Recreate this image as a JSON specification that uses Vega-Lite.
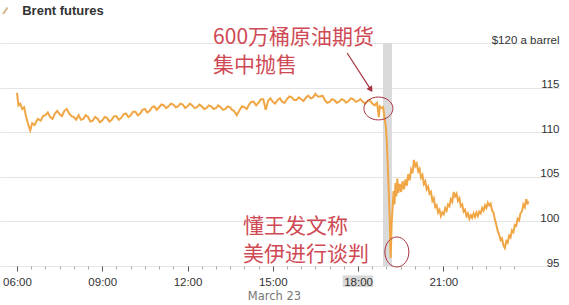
{
  "$schema": "https://vega.github.io/schema/vega-lite/v6.json",
  "width": 559,
  "height": 223,
  "autosize": {"type": "none"},
  "padding": {"left": 0, "top": 43, "right": 10, "bottom": 39},
  "background": "white",
  "config": {"view": {"stroke": null}, "font": "Liberation Sans"},
  "datasets": {
    "brent": [
      {"minute": 360, "p": 114.4}, {"minute": 363, "p": 113.0}, {"minute": 367, "p": 113.2}, {"minute": 371, "p": 112.6},
      {"minute": 375, "p": 112.8}, {"minute": 379, "p": 111.8}, {"minute": 384, "p": 110.8}, {"minute": 388, "p": 110.2},
      {"minute": 392, "p": 111.0}, {"minute": 397, "p": 110.8}, {"minute": 404, "p": 111.5}, {"minute": 410, "p": 111.3},
      {"minute": 415, "p": 111.8},
      {"minute": 420, "p": 111.9}, {"minute": 425, "p": 112.2}, {"minute": 430, "p": 111.7}, {"minute": 435, "p": 111.5},
      {"minute": 440, "p": 112.1}, {"minute": 445, "p": 112.4}, {"minute": 450, "p": 112.0}, {"minute": 455, "p": 111.8},
      {"minute": 460, "p": 112.4}, {"minute": 465, "p": 112.6}, {"minute": 470, "p": 112.1}, {"minute": 475, "p": 111.8},
      {"minute": 480, "p": 111.7}, {"minute": 485, "p": 111.4}, {"minute": 490, "p": 111.9}, {"minute": 495, "p": 111.4},
      {"minute": 500, "p": 111.5}, {"minute": 505, "p": 111.9}, {"minute": 510, "p": 111.7}, {"minute": 515, "p": 111.2},
      {"minute": 520, "p": 111.3}, {"minute": 525, "p": 111.7}, {"minute": 530, "p": 111.5}, {"minute": 535, "p": 111.1},
      {"minute": 540, "p": 111.3}, {"minute": 545, "p": 111.7}, {"minute": 550, "p": 111.6}, {"minute": 555, "p": 111.2},
      {"minute": 560, "p": 111.4}, {"minute": 565, "p": 111.8}, {"minute": 570, "p": 111.8}, {"minute": 575, "p": 111.4},
      {"minute": 580, "p": 111.6}, {"minute": 585, "p": 112.0}, {"minute": 590, "p": 112.1}, {"minute": 595, "p": 111.7},
      {"minute": 600, "p": 111.9}, {"minute": 605, "p": 112.3}, {"minute": 610, "p": 112.3}, {"minute": 615, "p": 111.9},
      {"minute": 620, "p": 112.1}, {"minute": 625, "p": 112.5}, {"minute": 630, "p": 112.6}, {"minute": 635, "p": 112.2},
      {"minute": 640, "p": 112.4}, {"minute": 645, "p": 112.8}, {"minute": 650, "p": 112.9}, {"minute": 655, "p": 112.5},
      {"minute": 660, "p": 112.8}, {"minute": 665, "p": 113.1}, {"minute": 670, "p": 113.0}, {"minute": 675, "p": 112.7},
      {"minute": 680, "p": 112.9}, {"minute": 685, "p": 113.2}, {"minute": 690, "p": 113.1}, {"minute": 695, "p": 112.8},
      {"minute": 700, "p": 112.9}, {"minute": 705, "p": 113.2}, {"minute": 710, "p": 113.1}, {"minute": 715, "p": 112.7},
      {"minute": 720, "p": 112.9}, {"minute": 725, "p": 113.2}, {"minute": 730, "p": 113.0}, {"minute": 735, "p": 112.7},
      {"minute": 740, "p": 112.8}, {"minute": 745, "p": 113.1}, {"minute": 750, "p": 112.9}, {"minute": 755, "p": 112.6},
      {"minute": 760, "p": 112.7}, {"minute": 765, "p": 113.0}, {"minute": 770, "p": 112.9}, {"minute": 775, "p": 112.6},
      {"minute": 780, "p": 112.7}, {"minute": 785, "p": 113.0}, {"minute": 790, "p": 112.8}, {"minute": 795, "p": 112.5},
      {"minute": 800, "p": 112.6}, {"minute": 805, "p": 112.9}, {"minute": 810, "p": 112.8}, {"minute": 814, "p": 112.5},
      {"minute": 818, "p": 112.4}, {"minute": 824, "p": 111.9}, {"minute": 830, "p": 112.5}, {"minute": 835, "p": 112.9},
      {"minute": 840, "p": 112.8}, {"minute": 845, "p": 112.6}, {"minute": 850, "p": 113.1}, {"minute": 855, "p": 113.4},
      {"minute": 860, "p": 113.4}, {"minute": 865, "p": 113.0}, {"minute": 870, "p": 113.3}, {"minute": 875, "p": 113.7},
      {"minute": 880, "p": 113.7}, {"minute": 885, "p": 112.5}, {"minute": 890, "p": 113.5}, {"minute": 895, "p": 113.8},
      {"minute": 900, "p": 113.4}, {"minute": 905, "p": 113.2}, {"minute": 910, "p": 113.6}, {"minute": 915, "p": 113.8},
      {"minute": 920, "p": 113.4}, {"minute": 925, "p": 113.3}, {"minute": 930, "p": 113.7}, {"minute": 935, "p": 114.0},
      {"minute": 940, "p": 113.9}, {"minute": 945, "p": 113.6}, {"minute": 950, "p": 113.6}, {"minute": 955, "p": 113.9},
      {"minute": 960, "p": 113.7}, {"minute": 965, "p": 113.5}, {"minute": 970, "p": 113.9}, {"minute": 975, "p": 114.1},
      {"minute": 980, "p": 113.8}, {"minute": 985, "p": 113.9}, {"minute": 990, "p": 114.3}, {"minute": 995, "p": 114.0},
      {"minute": 1000, "p": 114.0}, {"minute": 1005, "p": 114.1}, {"minute": 1010, "p": 113.6}, {"minute": 1015, "p": 113.3},
      {"minute": 1020, "p": 113.4}, {"minute": 1025, "p": 113.7}, {"minute": 1030, "p": 113.6}, {"minute": 1035, "p": 113.3},
      {"minute": 1040, "p": 113.4}, {"minute": 1045, "p": 113.7}, {"minute": 1050, "p": 113.6}, {"minute": 1055, "p": 113.3},
      {"minute": 1060, "p": 113.5}, {"minute": 1065, "p": 113.8}, {"minute": 1070, "p": 113.7}, {"minute": 1075, "p": 113.4},
      {"minute": 1080, "p": 113.5}, {"minute": 1085, "p": 113.7}, {"minute": 1090, "p": 113.4}, {"minute": 1095, "p": 113.2},
      {"minute": 1100, "p": 113.5}, {"minute": 1105, "p": 113.6}, {"minute": 1110, "p": 113.2}, {"minute": 1115, "p": 113.0},
      {"minute": 1120, "p": 113.3}, {"minute": 1124, "p": 111.7}, {"minute": 1126, "p": 112.9}, {"minute": 1130, "p": 112.7},
      {"minute": 1133, "p": 112.8}, {"minute": 1136, "p": 111.6}, {"minute": 1139, "p": 110.5}, {"minute": 1141, "p": 108.8},
      {"minute": 1143, "p": 106.0}, {"minute": 1145, "p": 103.2}, {"minute": 1147, "p": 100.2}, {"minute": 1148, "p": 97.5},
      {"minute": 1149, "p": 95.9}, {"minute": 1151, "p": 99.8}, {"minute": 1153, "p": 101.5}, {"minute": 1155, "p": 103.4},
      {"minute": 1157, "p": 101.9}, {"minute": 1159, "p": 104.3}, {"minute": 1161, "p": 102.8}, {"minute": 1163, "p": 104.8},
      {"minute": 1165, "p": 103.2}, {"minute": 1168, "p": 104.2}, {"minute": 1171, "p": 103.3}, {"minute": 1174, "p": 104.5},
      {"minute": 1177, "p": 103.6}, {"minute": 1180, "p": 104.7}, {"minute": 1183, "p": 104.0}, {"minute": 1186, "p": 105.3},
      {"minute": 1189, "p": 104.6}, {"minute": 1192, "p": 105.8}, {"minute": 1195, "p": 105.4}, {"minute": 1198, "p": 106.9},
      {"minute": 1201, "p": 106.2}, {"minute": 1204, "p": 106.5}, {"minute": 1207, "p": 105.6}, {"minute": 1210, "p": 105.9},
      {"minute": 1213, "p": 104.9}, {"minute": 1216, "p": 105.2}, {"minute": 1219, "p": 104.2}, {"minute": 1222, "p": 104.5},
      {"minute": 1225, "p": 103.6}, {"minute": 1228, "p": 103.9}, {"minute": 1231, "p": 103.1}, {"minute": 1234, "p": 103.3},
      {"minute": 1237, "p": 102.3}, {"minute": 1240, "p": 102.6}, {"minute": 1243, "p": 101.6}, {"minute": 1246, "p": 101.8},
      {"minute": 1249, "p": 101.0}, {"minute": 1252, "p": 101.3}, {"minute": 1255, "p": 100.6}, {"minute": 1258, "p": 101.0},
      {"minute": 1261, "p": 100.8}, {"minute": 1264, "p": 101.5}, {"minute": 1267, "p": 101.2}, {"minute": 1270, "p": 101.9},
      {"minute": 1273, "p": 101.7}, {"minute": 1276, "p": 102.5}, {"minute": 1279, "p": 102.2}, {"minute": 1282, "p": 103.3},
      {"minute": 1285, "p": 102.8}, {"minute": 1288, "p": 103.1}, {"minute": 1291, "p": 102.3}, {"minute": 1294, "p": 102.6},
      {"minute": 1297, "p": 101.7}, {"minute": 1300, "p": 101.9}, {"minute": 1303, "p": 101.1}, {"minute": 1306, "p": 101.3},
      {"minute": 1309, "p": 100.6}, {"minute": 1312, "p": 100.9}, {"minute": 1315, "p": 100.3}, {"minute": 1318, "p": 100.7},
      {"minute": 1321, "p": 100.4}, {"minute": 1324, "p": 100.9}, {"minute": 1327, "p": 100.5}, {"minute": 1330, "p": 101.0},
      {"minute": 1333, "p": 100.6}, {"minute": 1336, "p": 101.1}, {"minute": 1339, "p": 100.9}, {"minute": 1342, "p": 101.5},
      {"minute": 1345, "p": 101.2}, {"minute": 1348, "p": 101.8}, {"minute": 1351, "p": 101.5}, {"minute": 1354, "p": 102.1},
      {"minute": 1357, "p": 101.8}, {"minute": 1360, "p": 102.0}, {"minute": 1363, "p": 101.2}, {"minute": 1366, "p": 101.0},
      {"minute": 1369, "p": 100.2}, {"minute": 1372, "p": 99.6}, {"minute": 1375, "p": 98.9}, {"minute": 1378, "p": 98.5},
      {"minute": 1381, "p": 97.9}, {"minute": 1384, "p": 98.1}, {"minute": 1387, "p": 97.3}, {"minute": 1390, "p": 97.0},
      {"minute": 1393, "p": 97.8}, {"minute": 1396, "p": 97.6}, {"minute": 1399, "p": 98.4}, {"minute": 1402, "p": 98.2},
      {"minute": 1405, "p": 99.0}, {"minute": 1408, "p": 98.8}, {"minute": 1411, "p": 99.6}, {"minute": 1414, "p": 99.5},
      {"minute": 1417, "p": 100.3}, {"minute": 1420, "p": 100.1}, {"minute": 1423, "p": 100.9}, {"minute": 1426, "p": 101.1},
      {"minute": 1429, "p": 101.9}, {"minute": 1432, "p": 101.6}, {"minute": 1435, "p": 102.5}, {"minute": 1438, "p": 101.9},
      {"minute": 1439, "p": 102.3}
    ],
    "band": [{"minute": 1132.6, "minute2": 1151.6, "p": 95, "p2": 120}],
    "highlight": [{"minute": 1047.6, "minute2": 1112.0, "p": 92.64, "p2": 93.95}],
    "notes": [
      {"minute": 774, "p": 119.84, "text": "600万桶原油期货"},
      {"minute": 774, "p": 116.7, "text": "集中抛售"},
      {"minute": 837, "p": 98.68, "text": "懂王发文称"},
      {"minute": 837, "p": 95.6, "text": "美伊进行谈判"}
    ],
    "rings": [
      {"minute": 1123, "p": 112.66, "ring": "sell"},
      {"minute": 1162, "p": 96.57, "ring": "talks"}
    ],
    "arrow": [{"minute": 1057, "p": 118.88, "minute2": 1107, "p2": 114.78}],
    "head": [{"minute": 1107, "p": 114.78}],
    "heading": [{"minute": 371, "p": 123.14, "text": "Brent futures"}],
    "glyph": [{"minute": 330.4, "p": 123.25, "minute2": 340, "p2": 123.98}]
  },
  "encoding": {
    "x": {
      "field": "minute",
      "type": "quantitative",
      "scale": {"domain": [324.1, 1504.3], "nice": false, "zero": false},
      "axis": {
        "values": [360, 390, 420, 450, 480, 510, 540, 570, 600, 630, 660, 690, 720, 750, 780, 810, 840, 870, 900, 930, 960, 990, 1020, 1050, 1080, 1110, 1140, 1170, 1200, 1230, 1260, 1290, 1320, 1350, 1380, 1410],
        "labelExpr": "datum.value % 180 == 0 ? (datum.value < 600 ? '0' : '') + floor(datum.value / 60) + ':00' : ''",
        "labelOverlap": false,
        "labelFlush": false,
        "tickSize": {"condition": {"test": "datum.value % 180 == 0", "value": 5}, "value": 3},
        "tickColor": {"condition": {"test": "datum.value % 180 == 0", "value": "#555555"}, "value": "#aaaaaa"},
        "domain": false,
        "grid": false,
        "labelFont": "Liberation Sans",
        "labelFontSize": 11.5,
        "labelColor": "#333333",
        "labelPadding": 5,
        "title": "March 23",
        "titleFont": "DejaVu Sans",
        "titleFontSize": 11.5,
        "titleFontWeight": "normal",
        "titleColor": "#777777",
        "titleX": 274,
        "titleY": 33.7,
        "titleBaseline": "alphabetic",
        "titleAlign": "center",
        "zindex": 1
      }
    },
    "y": {
      "field": "p",
      "type": "quantitative",
      "scale": {"domain": [95, 120], "nice": false, "zero": false},
      "axis": {
        "orient": "right",
        "values": [95, 100, 105, 110, 115, 120],
        "ticks": false,
        "domain": false,
        "grid": true,
        "gridColor": "#e4e4e4",
        "gridWidth": 1,
        "labelAlign": "right",
        "labelBaseline": "alphabetic",
        "labelPadding": 0,
        "labelDy": -6.5,
        "labelFont": "Liberation Sans",
        "labelFontSize": 11.5,
        "labelColor": "#333333",
        "labelExpr": "datum.value == 120 ? '$120 a barrel' : datum.label",
        "title": null
      }
    }
  },
  "layer": [
    {
      "data": {"name": "highlight"},
      "mark": {"type": "rect", "color": "#d9d9d9"},
      "encoding": {"x2": {"field": "minute2"}, "y2": {"field": "p2"}}
    },
    {
      "data": {"name": "band"},
      "mark": {"type": "rect", "color": "#dadada"},
      "encoding": {"x2": {"field": "minute2"}, "y2": {"field": "p2"}}
    },
    {
      "data": {"name": "brent"},
      "mark": {"type": "line", "color": "#F0A645", "strokeWidth": 2},
      "encoding": {}
    },
    {
      "data": {"name": "rings"},
      "transform": [{"filter": "datum.ring == 'sell'"}],
      "mark": {"type": "point", "shape": "M -1 0 A 1 0.79 0 1 1 1 0 A 1 0.79 0 1 1 -1 0 Z", "size": 841, "filled": false, "stroke": "#a8323e", "strokeWidth": 1, "opacity": 1}
    },
    {
      "data": {"name": "rings"},
      "transform": [{"filter": "datum.ring == 'talks'"}],
      "mark": {"type": "point", "shape": "M -0.8 0 A 0.8 1 0 1 1 0.8 0 A 0.8 1 0 1 1 -0.8 0 Z", "size": 900, "filled": false, "stroke": "#a8323e", "strokeWidth": 1, "opacity": 1}
    },
    {
      "data": {"name": "arrow"},
      "mark": {"type": "rule", "color": "#a8323e", "strokeWidth": 1.2},
      "encoding": {"x2": {"field": "minute2"}, "y2": {"field": "p2"}}
    },
    {
      "data": {"name": "head"},
      "mark": {"type": "point", "shape": "triangle-down", "size": 45, "filled": true, "color": "#a8323e", "angle": 327, "opacity": 1}
    },
    {
      "data": {"name": "notes"},
      "mark": {"type": "text", "align": "left", "baseline": "alphabetic", "font": "Noto Sans CJK SC", "fontSize": 21, "color": "#cf4a55"},
      "encoding": {"text": {"field": "text"}}
    },
    {
      "data": {"name": "glyph"},
      "mark": {"type": "rule", "color": "#d4b48a", "strokeWidth": 2},
      "encoding": {"x2": {"field": "minute2"}, "y2": {"field": "p2"}}
    },
    {
      "data": {"name": "heading"},
      "mark": {"type": "text", "align": "left", "baseline": "alphabetic", "font": "Liberation Sans", "fontSize": 13, "fontWeight": "bold", "color": "#333333"},
      "encoding": {"text": {"field": "text"}}
    }
  ]
}
